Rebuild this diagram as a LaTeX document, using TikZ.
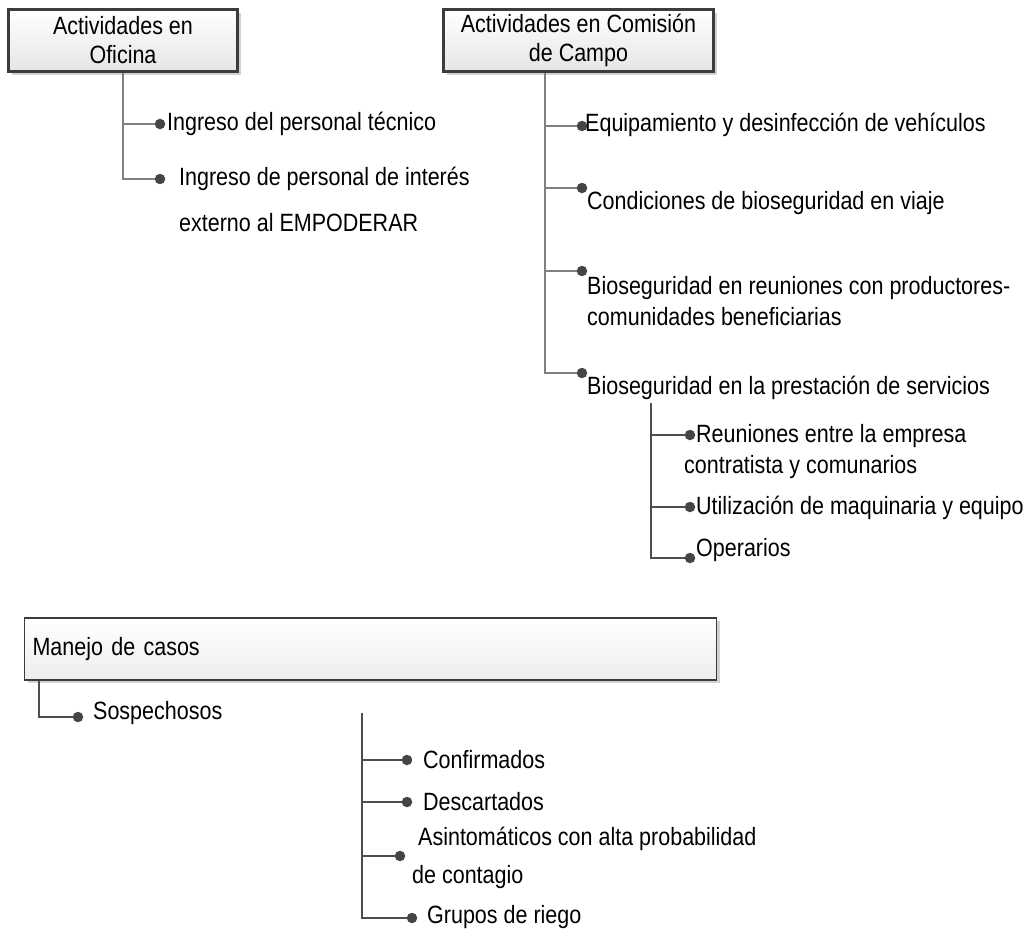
\documentclass[tikz,border=0pt]{standalone}
\usepackage{fontspec}
\setmainfont{Liberation Sans}[FakeStretch=0.86]
\usetikzlibrary{shadows}
\definecolor{boxline}{HTML}{3C3C3C}
\definecolor{bulletc}{HTML}{454545}
\definecolor{linec}{HTML}{808080}
\definecolor{darkline}{HTML}{4E4E4E}
\begin{document}
\begin{tikzpicture}[x=1pt, y=-1pt,
  bigbox/.style={draw=boxline, line width=3pt, top color=white, bottom color=gray!20,
    drop shadow={shadow xshift=3pt, shadow yshift=-3pt, fill=gray!35, opacity=1},
    align=center, font=\fontsize{25}{29}\selectfont, inner sep=0},
  flatbox/.style={draw=boxline, line width=1.5pt, top color=white, bottom color=gray!14,
    drop shadow={shadow xshift=3pt, shadow yshift=-3pt, fill=gray!35, opacity=1},
    align=left, font=\fontsize{25}{29}\selectfont, inner xsep=8, inner ysep=0},
  item/.style={anchor=west, align=left, inner sep=0, font=\fontsize{25}{31}\selectfont},
  bul/.style={circle, fill=bulletc, inner sep=0, minimum size=10.5},
  branch/.style={draw=linec, line width=1.5pt},
  darkbranch/.style={draw=darkline, line width=1.3pt}]
\useasboundingbox (0,0) rectangle (1028,937);

\node[bigbox, minimum width=229, minimum height=62] (oficina) at (123,40.5) {Actividades en\\Oficina};
\node[bigbox, minimum width=270, minimum height=62] (campo) at (578.5,40.5) {Actividades en Comisión\\de Campo};
\node[flatbox, text width=676, minimum height=62, anchor=west] (manejo) at (23.75,649) {Manejo de casos};

\coordinate (ct) at (545,73);
\coordinate (st) at (651,403);
\coordinate (mt) at (39,681);
\coordinate (bt) at (362,713);

\node[bul] (o1) at (160,124) {};
\node[bul] (o2) at (160,179) {};
\node[item] (o1t) at (167,124) {Ingreso del personal técnico};
\node[item, font=\fontsize{25}{46}\selectfont] (o2t) at (179,199) {Ingreso de personal de interés\\externo al EMPODERAR};

\node[bul] (c1) at (582,126) {};
\node[bul] (c2) at (582,188) {};
\node[bul] (c3) at (582,271) {};
\node[bul] (c4) at (582,373) {};
\node[item] (c1t) at (585,125) {Equipamiento y desinfección de vehículos};
\node[item] (c2t) at (587,203) {Condiciones de bioseguridad en viaje};
\node[item] (c3t) at (587,301) {Bioseguridad en reuniones con productores-\\comunidades beneficiarias};
\node[item] (c4t) at (587,388) {Bioseguridad en la prestación de servicios};

\node[bul] (s1) at (690,435) {};
\node[bul] (s2) at (690,507) {};
\node[bul] (s3) at (690,558) {};
\node[item] (s1t) at (684,452) {\hspace*{12pt}Reuniones entre la empresa\\contratista y comunarios};
\node[item] (s2t) at (696,508) {Utilización de maquinaria y equipo};
\node[item] (s3t) at (696,550) {Operarios};

\node[bul] (m1) at (78,717) {};
\node[item] (m1t) at (93,713) {Sospechosos};

\node[bul] (b1) at (407,760) {};
\node[bul] (b2) at (407,802) {};
\node[bul] (b3) at (400,856) {};
\node[bul] (b4) at (412,918) {};
\node[item] (b1t) at (423,760) {Confirmados};
\node[item] (b2t) at (423,802) {Descartados};
\node[item, font=\fontsize{25}{38}\selectfont] (b3t) at (412,858) {\hspace*{6pt}Asintomáticos con alta probabilidad\\de contagio};
\node[item] (b4t) at (427,917) {Grupos de riego};

\draw[branch] (oficina.south) |- (o1) (oficina.south) |- (o2);
\draw[branch] (ct) |- (c1) (ct) |- (c2) (ct) |- (c3) (ct) |- (c4);
\draw[darkbranch] (st) |- (s1) (st) |- (s2) (st) |- (s3);
\draw[darkbranch] (mt) |- (m1);
\draw[darkbranch] (bt) |- (b1) (bt) |- (b2) (bt) |- (b3) (bt) |- (b4);
\end{tikzpicture}
\end{document}
